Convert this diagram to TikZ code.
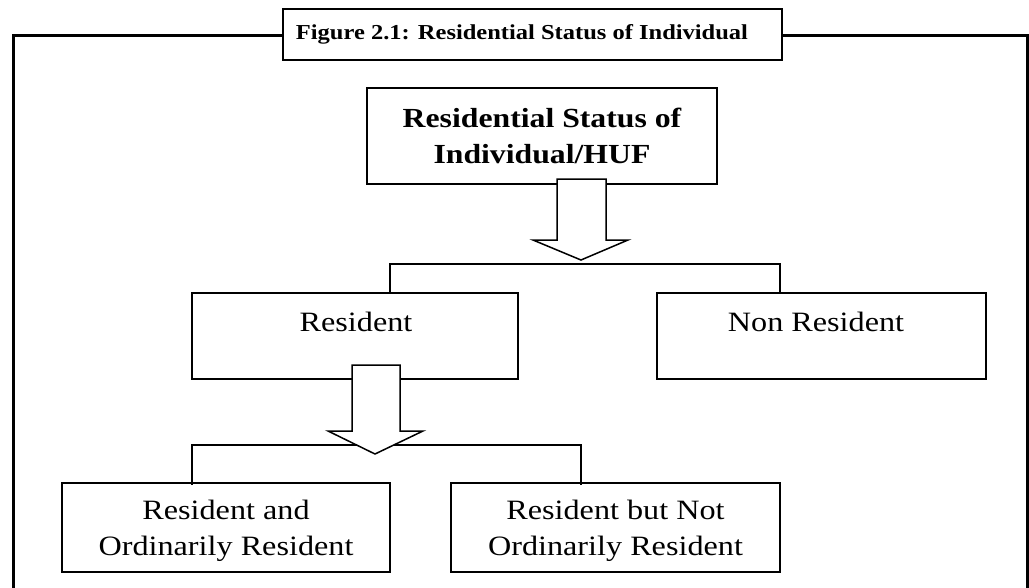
\documentclass[tikz,border=0pt]{standalone}
\usepackage{fontspec}
\setmainfont{Liberation Serif}[FakeStretch=1.15]
\usetikzlibrary{calc}
\begin{document}
\begin{tikzpicture}[x=1pt,y=-1pt,
  box/.style={draw, line width=2.2pt, fill=white, inner sep=0pt},
  lbl/.style={align=center, font=\fontsize{28}{36}\selectfont, inner sep=0pt},
  conn/.style={line width=2pt},
  hollow/.style={draw, line width=1.5pt, fill=white, line join=miter}]
\useasboundingbox (0,0) rectangle (1029,587);
\fill[white] (0,0) rectangle (1029,587);
% outer frame
\draw[line width=3pt] (13,640) |- (1027,35) -- (1027,640);
% title
\node[box, line width=2.6pt, minimum width=499pt, minimum height=51pt] (title) at (532.5,34.5) {};
\node[inner sep=0pt, font=\bfseries\fontsize{21.3}{24}\selectfont] (titletxt) at (522,34) {Figure 2.1: Residential Status of Individual};
% boxes
\node[box, minimum width=350pt, minimum height=96pt] (top) at (542,136) {};
\node[lbl, font=\bfseries\fontsize{27.6}{36}\selectfont] (toptxt) at (542,136) {Residential Status of\\Individual/HUF};
\node[box, minimum width=326pt, minimum height=86pt] (res) at (355,336) {};
\node[lbl] (restxt) at (356,322) {Resident};
\node[box, minimum width=329pt, minimum height=86pt] (non) at (821.5,336) {};
\node[lbl] (nontxt) at (816,322) {Non Resident};
\node[box, minimum width=328pt, minimum height=89pt] (ror) at (226,527.5) {};
\node[lbl] (rortxt) at (226,531) {Resident and\\Ordinarily Resident};
\node[box, minimum width=329pt, minimum height=89pt] (rnor) at (615.5,527.5) {};
\node[lbl] (rnortxt) at (615.5,531) {Resident but Not\\Ordinarily Resident};
% brackets
\coordinate (b1l) at (390,264);
\coordinate (b1r) at (780,264);
\draw[conn] (b1l |- res.north) -- (b1l) -- (b1r) -- (b1r |- non.north);
\coordinate (b2l) at (192,445);
\coordinate (b2r) at (581,445);
\draw[conn] ([yshift=-3pt]b2l |- ror.north) -- (b2l) -- (b2r) -- ([yshift=-3pt]b2r |- rnor.north);
% hollow arrows
\draw[hollow] (557,179) -- (557,240) -- (533,240) -- (581,260) -- (628,240) -- (606,240) -- (606,179) -- cycle;
\draw[hollow] (352,365) -- (352,431) -- (328,431) -- (375,454) -- (423,431) -- (400,431) -- (400,365) -- cycle;
\end{tikzpicture}
\end{document}
